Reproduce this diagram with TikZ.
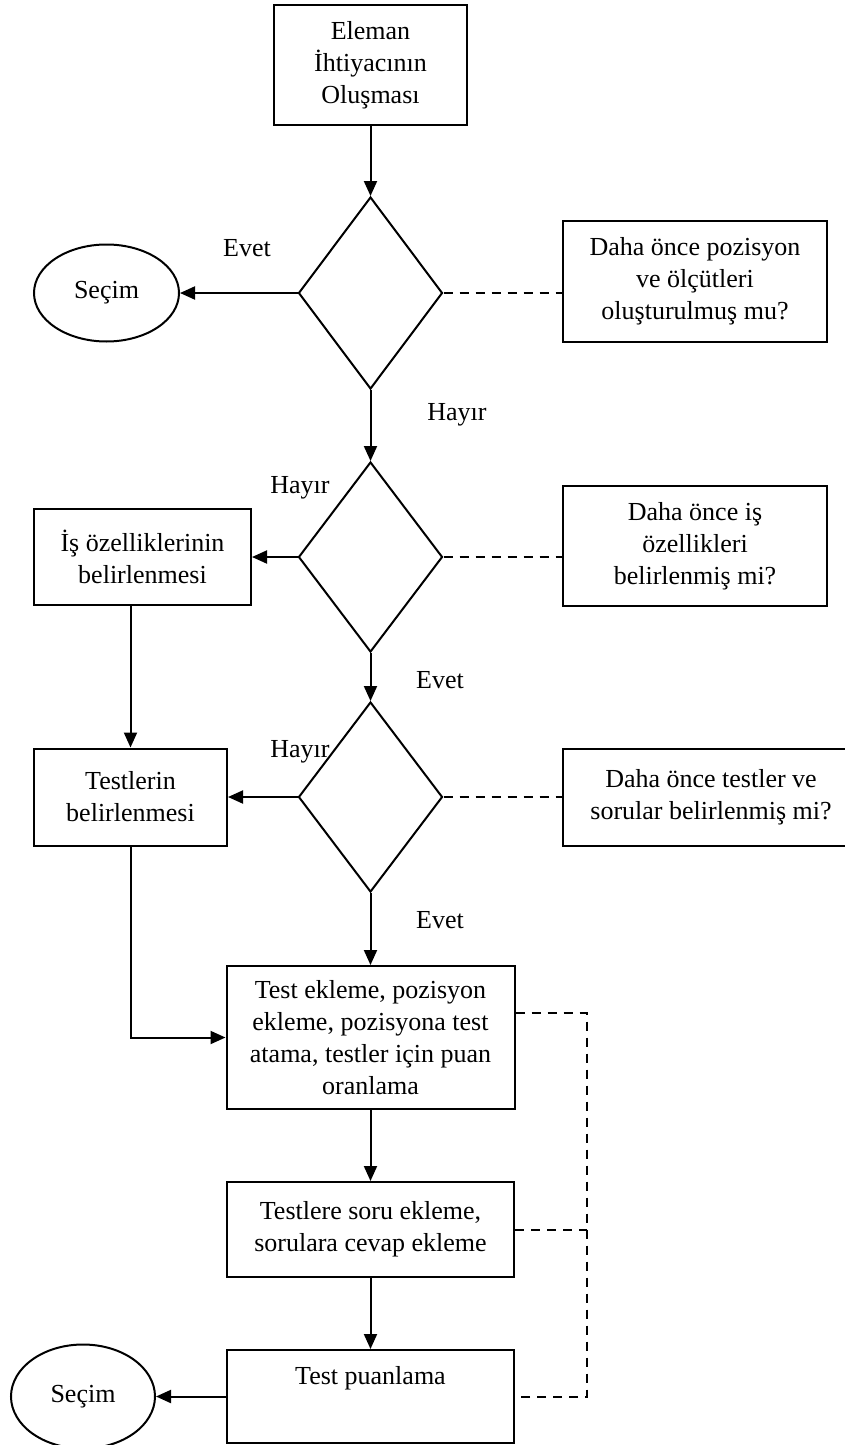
\documentclass[tikz,border=0pt]{standalone}
\usepackage{fontspec}
\setmainfont{Liberation Serif}
\usetikzlibrary{shapes.geometric,arrows.meta}
\begin{document}
\begin{tikzpicture}[x=1pt,y=-1pt,
  every node/.style={font=\fontsize{26}{32}\selectfont, align=center, inner sep=0pt},
  box/.style={draw, line width=2pt, rectangle},
  decision/.style={draw, line width=2pt, diamond, minimum width=144, minimum height=190},
  terminal/.style={draw, line width=2pt, ellipse},
  flow/.style={line width=2pt, -{Triangle[length=15pt,width=13pt]}},
  note/.style={line width=2pt, dash pattern=on 9pt off 7pt}]
\clip (0,0) rectangle (845,1445);
\useasboundingbox (0,0) rectangle (845,1445);

% main column
\node[box, minimum width=193, minimum height=120] (start) at (370.5,65) {Eleman\\İhtiyacının\\Oluşması};
\node[decision, minimum height=192] (d1) at (370.5,293) {};
\node[decision] (d2) at (370.5,557) {};
\node[decision] (d3) at (370.5,797) {};
\node[box, minimum width=288, minimum height=143] (b4) at (370.5,1037.5) {Test ekleme, pozisyon\\ekleme, pozisyona test\\atama, testler için puan\\oranlama};
\node[box, minimum width=287, minimum height=95] (b5) at (370.5,1229.5) {Testlere soru ekleme,\\sorulara cevap ekleme};
\node[box, minimum width=287, minimum height=93] (b6) at (370.5,1396.5) {};
\node (b6t) at (370.5,1378) {Test puanlama};

% left column
\node[terminal, minimum width=145, minimum height=97] (e1) at (106.5,293) {Seçim};
\node[box, minimum width=217, minimum height=96] (b2) at (142.5,557) {İş özelliklerinin\\belirlenmesi};
\node[box, minimum width=193, minimum height=97] (b3) at (130.5,797) {Testlerin\\belirlenmesi};
\node[terminal, minimum width=144, minimum height=104] (e2) at (83,1396.5) {Seçim};

% questions on the right
\node[box, minimum width=264, minimum height=121] (q1) at (695,281.5) {Daha önce pozisyon\\ve ölçütleri\\oluşturulmuş mu?};
\node[box, minimum width=264, minimum height=120] (q2) at (695,546) {Daha önce iş\\özellikleri\\belirlenmiş mi?};
\node[box, minimum width=296, minimum height=97] (q3) at (711,797) {Daha önce testler ve\\sorular belirlenmiş mi?};

% branch labels
\node (l1) at (247,248) {Evet};
\node (l2) at (457,415) {Hayır};
\node (l3) at (300,488) {Hayır};
\node (l4) at (440,680) {Evet};
\node (l5) at (300,752) {Hayır};
\node (l6) at (440,920) {Evet};

% flow arrows
\draw[flow] (start.south) -- (d1.north);
\draw[flow] (d1.west) -- (e1.east);
\draw[flow] (d1.south) -- (d2.north);
\draw[flow] (d2.west) -- (b2.east);
\draw[flow] (b3.north |- b2.south) -- (b3.north);
\draw[flow] (d2.south) -- (d3.north);
\draw[flow] (d3.west) -- (b3.east);
\draw[flow] (d3.south) -- (b4.north);
\draw[flow] (b3.south) -- (b3.south |- b4.west) -- (b4.west);
\draw[flow] (b4.south) -- (b5.north);
\draw[flow] (b5.south) -- (b6.north);
\draw[flow] (b6.west) -- (e2.east);

% dashed links to the questions
\draw[note] (d1.east) -- (d1.east -| q1.west);
\draw[note] (d2.east) -- (d2.east -| q2.west);
\draw[note] (d3.east) -- (q3.west);

% dashed bracket on the right of the lower boxes
\coordinate (dv) at (587,1013);
\draw[note] (b4.east |- dv) -- (dv) -- (dv |- b6.east) -- (b6.east);
\draw[note] (b5.east) -- (b5.east -| dv);
\end{tikzpicture}
\end{document}
